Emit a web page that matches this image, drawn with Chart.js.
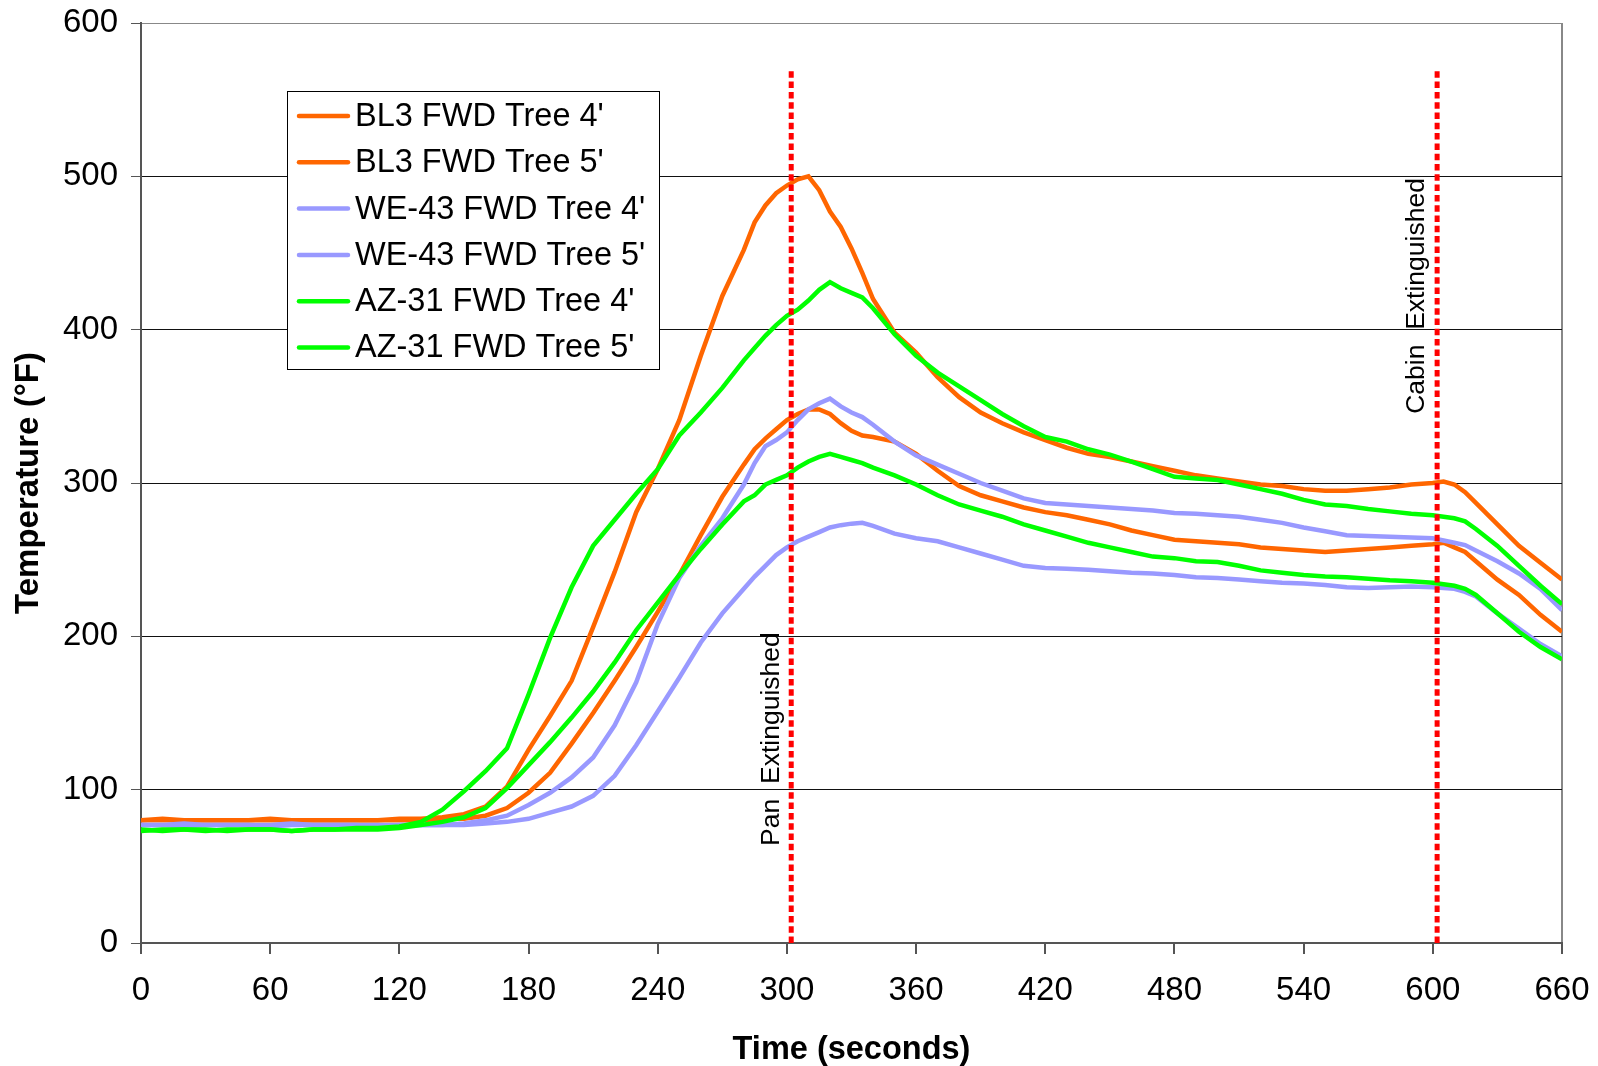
<!DOCTYPE html>
<html>
<head>
<meta charset="utf-8">
<title>FWD Tree temperatures</title>
<script src="https://cdn.jsdelivr.net/npm/chart.js@4.4.1/dist/chart.umd.min.js"></script>
<style>
  html, body { margin: 0; padding: 0; background: #fff; }
  #wrap { width: 1598px; height: 1066px; }
</style>
</head>
<body>
<div id="wrap"><canvas id="tempChart" width="1598" height="1066"></canvas></div>
<script>
// Time axis (seconds)
const times = [0, 10, 20, 30, 40, 50, 60, 70, 80, 90, 100, 110, 120, 130, 140, 150, 160, 170, 180, 190,
  200, 210, 220, 230, 240, 250, 260, 270, 280, 285, 290, 295, 300, 305, 310, 315, 320, 325, 330, 335, 340,
  350, 360, 370, 380, 390, 400, 410, 420, 430, 440, 450, 460, 470, 480, 490, 500, 510, 520, 530, 540,
  550, 560, 570, 580, 590, 600, 605, 610, 615, 620, 630, 640, 650, 660];

// Temperatures (deg F)
const bl3Tree4 = [80, 80, 80, 80, 80, 80, 80, 80, 80, 80, 80, 80, 80, 80, 81, 81, 83, 88, 98, 111,
  130, 150, 171, 193, 216, 240, 266, 291, 312, 322, 329, 335, 341, 345, 348, 348, 345, 339, 334, 331, 330,
  327, 319, 308, 298, 292, 288, 284, 281, 279, 276, 273, 269, 266, 263, 262, 261, 260, 258, 257, 256,
  255, 256, 257, 258, 259, 260, 261, 258, 255, 249, 237, 227, 214, 203];
const bl3Tree5 = [80, 81, 80, 80, 80, 80, 81, 80, 80, 80, 80, 80, 81, 81, 82, 84, 89, 102, 126, 148,
  171, 206, 242, 281, 309, 341, 383, 422, 452, 470, 481, 489, 494, 498, 500, 491, 477, 467, 453, 437, 420,
  398, 385, 369, 356, 346, 339, 333, 328, 323, 319, 317, 314, 311, 308, 305, 303, 301, 299, 298, 296,
  295, 295, 296, 297, 299, 300, 301, 299, 294, 287, 273, 259, 248, 237];
const we43Tree4 = [77, 77, 76, 77, 77, 77, 76, 77, 77, 77, 77, 76, 77, 77, 77, 77, 78, 79, 81, 85,
  89, 96, 109, 129, 151, 173, 196, 215, 231, 239, 246, 253, 258, 262, 265, 268, 271, 272.5, 273.5, 274, 272,
  267, 264, 262, 258, 254, 250, 246, 244.5, 244, 243.5, 242.5, 241.5, 241, 240, 238.5, 238, 237, 236, 235, 234.5,
  233.5, 232, 231.5, 232, 232.5, 232, 231.5, 231, 229, 226, 215, 205, 195, 187];
const we43Tree5 = [77, 77, 78, 77, 77, 77, 77, 78, 77, 77, 77, 77, 77, 77, 77, 78, 80, 83, 90, 98,
  108, 121, 142, 170, 208, 238, 259, 277, 299, 313, 324, 328, 333, 341, 348, 352, 355, 350, 346, 343, 338,
  327, 318, 312, 306, 300, 295, 290, 287, 286, 285, 284, 283, 282, 280.5, 280, 279, 278, 276, 274, 271,
  268.5, 266, 265.5, 265, 264.5, 264, 262.5, 261, 259.5, 256, 249, 241, 231, 217];
const az31Tree4 = [74, 73, 74, 74, 73, 74, 74, 73, 74, 74, 74, 74, 75, 77, 79, 82, 88, 101, 116, 131,
  147, 164, 183, 204, 222, 240, 257, 273, 288, 292, 299, 302, 305, 310, 314, 317, 319, 317, 315, 313, 310,
  305, 299, 292, 286, 282, 278, 273, 269, 265, 261, 258, 255, 252, 251, 249, 248.5, 246, 243, 241.5, 240,
  239, 238.5, 237.5, 236.5, 236, 235, 234, 233, 231, 227, 215, 203, 193, 185];
const az31Tree5 = [73, 74, 74, 73, 74, 74, 74, 73, 74, 74, 75, 75, 76, 79, 87, 99, 112, 127, 162, 199,
  232, 259, 276, 293, 309, 331, 346, 362, 380, 388, 396, 403, 409, 413, 419, 426, 431, 427, 424, 421, 414,
  397, 383, 372, 363, 354, 345, 337, 330, 327, 322, 318.5, 314, 309, 304, 303, 302, 299, 296, 293, 289,
  286, 285, 283, 281.5, 280, 279, 278, 277, 275, 270, 259, 246, 233, 221];

const seriesNames = ["BL3 FWD Tree 4'", "BL3 FWD Tree 5'", "WE-43 FWD Tree 4'", "WE-43 FWD Tree 5'",
  "AZ-31 FWD Tree 4'", "AZ-31 FWD Tree 5'"];
const seriesData = [bl3Tree4, bl3Tree5, we43Tree4, we43Tree5, az31Tree4, az31Tree5];
const seriesColors = ['#ff6600', '#ff6600', '#9999ff', '#9999ff', '#00ff00', '#00ff00'];

// Event markers
const eventTimes = [302, 602];
const eventLabels = ['Pan  Extinguished', 'Cabin  Extinguished'];
const eventTop = 570;
const eventLabelLevels = [133, 422];

const FONT = "'Liberation Sans', Arial, Helvetica, sans-serif";
Chart.defaults.font.family = FONT;
Chart.defaults.color = '#000';

const curveSets = seriesData.map((vals, i) => ({
  label: seriesNames[i],
  data: times.map((t, j) => ({ x: t, y: vals[j] })),
  borderColor: seriesColors[i],
  backgroundColor: seriesColors[i],
  borderWidth: 4.5,
  pointRadius: 0,
  tension: 0,
  fill: false,
  order: seriesData.length - i   // later series drawn on top, like the original
}));

const eventSets = eventTimes.map((t, i) => ({
  label: eventLabels[i],
  isEvent: true,
  data: [{ x: t, y: 0 }, { x: t, y: eventTop }],
  borderColor: '#ff0000',
  borderWidth: 5,
  borderDash: [6.5, 3.8],
  borderCapStyle: 'butt',
  pointRadius: 0,
  fill: false,
  order: 0
}));

// boxed legend in the upper left of the plot
const boxLegend = {
  id: 'boxLegend',
  afterDatasetsDraw(chart, args, opts) {
    const ctx = chart.ctx;
    ctx.save();
    ctx.fillStyle = '#fff';
    ctx.fillRect(opts.x, opts.y, opts.width, opts.height);
    ctx.strokeStyle = '#000';
    ctx.lineWidth = 1;
    ctx.strokeRect(opts.x + 0.5, opts.y + 0.5, opts.width, opts.height);
    ctx.font = opts.font;
    ctx.textBaseline = 'middle';
    ctx.textAlign = 'left';
    chart.data.datasets.filter(ds => !ds.isEvent).forEach((ds, i) => {
      const cy = opts.y + opts.firstRow + i * opts.rowGap;
      ctx.strokeStyle = ds.borderColor;
      ctx.lineWidth = 4.5;
      ctx.lineCap = 'round';
      ctx.beginPath();
      ctx.moveTo(opts.x + 12, cy);
      ctx.lineTo(opts.x + 61, cy);
      ctx.stroke();
      ctx.fillStyle = '#000';
      ctx.fillText(ds.label, opts.x + 68, cy + 1);
    });
    ctx.restore();
  }
};

// rotated labels next to the event lines
const eventText = {
  id: 'eventText',
  afterDatasetsDraw(chart, args, opts) {
    const { ctx, scales } = chart;
    ctx.save();
    ctx.font = opts.font;
    ctx.fillStyle = '#000';
    ctx.textAlign = 'center';
    ctx.textBaseline = 'middle';
    eventTimes.forEach((t, i) => {
      const px = scales.x.getPixelForValue(t) + opts.offsetX;
      const py = scales.y.getPixelForValue(eventLabelLevels[i]);
      ctx.save();
      ctx.translate(px, py);
      ctx.rotate(-Math.PI / 2);
      ctx.fillText(eventLabels[i], 0, 0);
      ctx.restore();
    });
    ctx.restore();
  }
};

new Chart(document.getElementById('tempChart'), {
  type: 'line',
  data: { datasets: [...curveSets, ...eventSets] },
  options: {
    responsive: false,
    animation: false,
    devicePixelRatio: 1,
    layout: { padding: { top: 23, right: 36, bottom: 0, left: 0 } },
    scales: {
      x: {
        type: 'linear',
        min: 0,
        max: 660,
        afterFit(scale) {
          scale.height = 123;
          scale.paddingLeft = 0;
          scale.paddingRight = 0;
        },
        ticks: { stepSize: 60, font: { size: 33 }, color: '#000', padding: 17, maxRotation: 0 },
        grid: {
          color: c => (c.tick && c.tick.value === 660 ? '#888' : 'rgba(0,0,0,0)'),
          lineWidth: 2,
          tickColor: '#555',
          tickLength: 11
        },
        border: { color: '#555', width: 2 },
        title: {
          display: true,
          text: 'Time (seconds)',
          font: { size: 32.5, weight: 'bold', lineHeight: 1.0 },
          color: '#000',
          padding: { top: 0, bottom: 0 }
        }
      },
      y: {
        min: 0,
        max: 600,
        afterFit(scale) {
          scale.width = 141;
          scale.paddingTop = 0;
          scale.paddingBottom = 0;
        },
        ticks: { stepSize: 100, font: { size: 33 }, color: '#000', padding: 13 },
        grid: {
          color: c => (c.tick && c.tick.value === 600 ? '#888' : '#111'),
          lineWidth: 1,
          tickColor: '#555',
          tickLength: 10
        },
        border: { color: '#555', width: 2 },
        title: {
          display: true,
          text: 'Temperature (°F)',
          font: { size: 33, weight: 'bold' },
          color: '#000',
          padding: { top: 9, bottom: 0 }
        }
      }
    },
    plugins: {
      legend: { display: false },
      tooltip: { enabled: false },
      boxLegend: {
        x: 287, y: 91, width: 372, height: 278,
        firstRow: 25, rowGap: 46.3,
        font: '32.5px ' + FONT
      },
      eventText: { font: '26.5px ' + FONT, offsetX: -20 }
    }
  },
  plugins: [boxLegend, eventText]
});
</script>
</body>
</html>
